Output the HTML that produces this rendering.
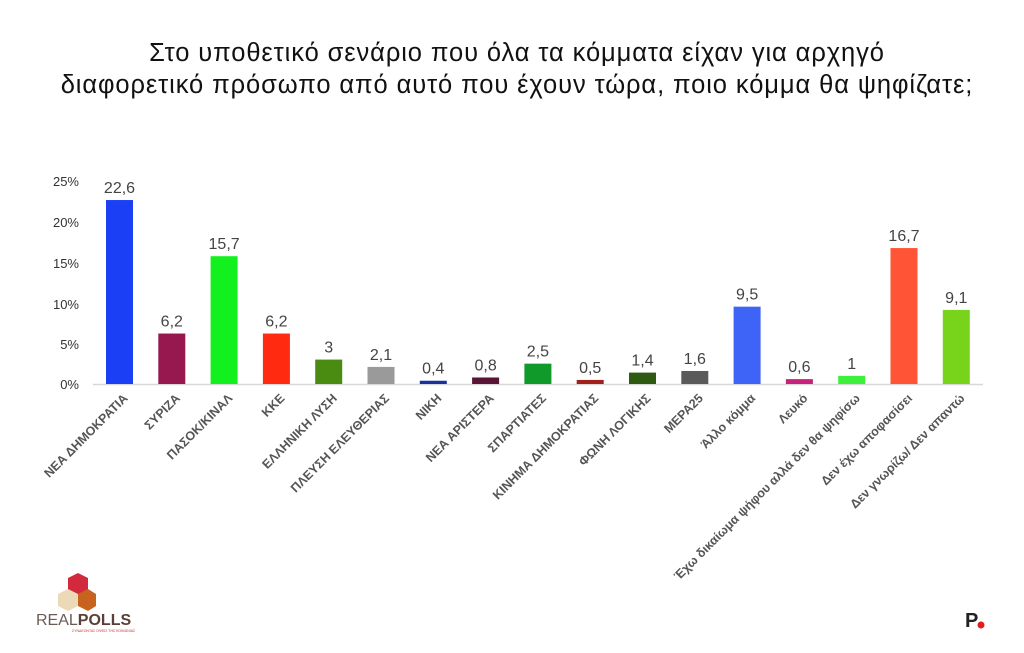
<!DOCTYPE html>
<html><head><meta charset="utf-8"><style>
body{margin:0;background:#fff;}
svg{display:block;font-family:"Liberation Sans","DejaVu Sans",sans-serif;}
</style></head><body>
<svg width="1024" height="653" viewBox="0 0 1024 653">
<text x="517" y="61" text-anchor="middle" font-size="25.5" letter-spacing="0.9" fill="#111">Στο υποθετικό σενάριο που όλα τα κόμματα είχαν για αρχηγό</text>
<text x="517" y="93" text-anchor="middle" font-size="25.5" letter-spacing="0.9" fill="#111">διαφορετικό πρόσωπο από αυτό που έχουν τώρα, ποιο κόμμα θα ψηφίζατε;</text>
<g font-size="13" fill="#333" text-anchor="end">
<text x="79" y="186">25%</text><text x="79" y="227">20%</text><text x="79" y="268">15%</text>
<text x="79" y="309">10%</text><text x="79" y="349">5%</text><text x="79" y="389">0%</text>
</g>
<line x1="93" y1="384.5" x2="983" y2="384.5" stroke="#d8d8d8" stroke-width="1.5"/>
<g id="bars"></g>
<g font-size="16" fill="#444" text-anchor="middle" id="vals"></g>
<g font-size="12.5" font-weight="bold" fill="#555" text-anchor="end" id="labs"></g>
<polygon points="68,578 78,573 88,578 88,592 78,597 68,592" fill="#d22a3c"/>
<polygon points="58,594 68,589 78,594 78,606 68,611 58,606" fill="#ecd9b8"/>
<polygon points="78,594 88,589 96,594 96,606 88,611 78,606" fill="#c8621f"/>
<text x="36" y="625" font-size="16" fill="#6b5b55">REAL<tspan font-weight="bold" fill="#5a4038">POLLS</tspan></text>
<text x="72" y="632" font-size="3.5" fill="#c33">ΣΥΝΔΕΟΝΤΑΣ ΟΨΕΙΣ ΤΗΣ ΚΟΙΝΩΝΙΑΣ</text>
<text x="965" y="627" font-size="20" font-weight="bold" fill="#222">P</text>
<circle cx="981" cy="625" r="3.5" fill="#e41b1b"/>
</svg>
<script>
const d=[["ΝΕΑ ΔΗΜΟΚΡΑΤΙΑ",22.6,"#1b3ff5"],["ΣΥΡΙΖΑ",6.2,"#96184f"],["ΠΑΣΟΚ/ΚΙΝΑΛ",15.7,"#12f01e"],["ΚΚΕ",6.2,"#ff2a10"],["ΕΛΛΗΝΙΚΗ ΛΥΣΗ",3,"#4a8b12"],["ΠΛΕΥΣΗ ΕΛΕΥΘΕΡΙΑΣ",2.1,"#9a9a9a"],["ΝΙΚΗ",0.4,"#1a2fa0"],["ΝΕΑ ΑΡΙΣΤΕΡΑ",0.8,"#5a1434"],["ΣΠΑΡΤΙΑΤΕΣ",2.5,"#0f9a2a"],["ΚΙΝΗΜΑ ΔΗΜΟΚΡΑΤΙΑΣ",0.5,"#a0201a"],["ΦΩΝΗ ΛΟΓΙΚΗΣ",1.4,"#2f5a12"],["ΜΕΡΑ25",1.6,"#5a5a5a"],["Άλλο κόμμα",9.5,"#3d63f7"],["Λευκό",0.6,"#c8237a"],["Έχω δικαίωμα ψήφου αλλά δεν θα ψηφίσω",1,"#3cf03c"],["Δεν έχω αποφασίσει",16.7,"#ff5436"],["Δεν γνωρίζω/ Δεν απαντώ",9.1,"#78d41a"]];
const ns="http://www.w3.org/2000/svg";
const B=document.getElementById("bars"),V=document.getElementById("vals"),L=document.getElementById("labs");
d.forEach((r,i)=>{const cx=119.5+i*52.3,h=r[1]*8.14;
let e=document.createElementNS(ns,"rect");e.setAttribute("x",cx-13.5);e.setAttribute("y",384-h);e.setAttribute("width",27);e.setAttribute("height",h);e.setAttribute("fill",r[2]);B.appendChild(e);
let t=document.createElementNS(ns,"text");t.setAttribute("x",cx);t.setAttribute("y",384-h-7);t.textContent=String(r[1]).replace(".",",");V.appendChild(t);
let l=document.createElementNS(ns,"text");l.setAttribute("transform",`translate(${cx+9},399) rotate(-45)`);l.textContent=r[0];L.appendChild(l);});
</script>
</body></html>
